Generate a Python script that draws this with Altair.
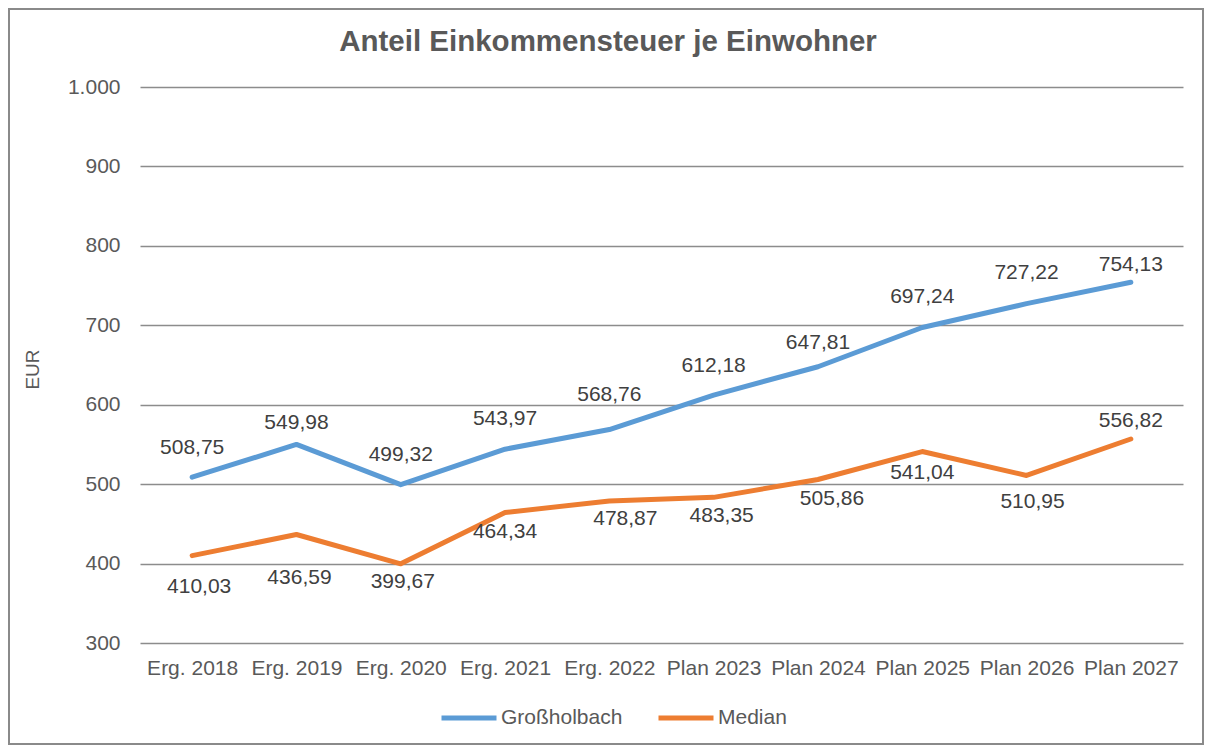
import altair as alt
import pandas as pd

categories = ["Erg. 2018", "Erg. 2019", "Erg. 2020", "Erg. 2021", "Erg. 2022",
              "Plan 2023", "Plan 2024", "Plan 2025", "Plan 2026", "Plan 2027"]
grossholbach = [508.75, 549.98, 499.32, 543.97, 568.76, 612.18, 647.81, 697.24, 727.22, 754.13]
median = [410.03, 436.59, 399.67, 464.34, 478.87, 483.35, 505.86, 541.04, 510.95, 556.82]
series_names = ["Großholbach", "Median"]

# label placement offsets (pixels) as in the reference
g_dy = [-29, -21, -30, -30, -35, -29, -24, -30, -31, -17]
g_dx = [0, 0, 0, 0, 0, 0, 0, 0, 0, 0]
m_dy = [31, 43, 18, 20, 18, 19, 20, 21, 27, -18]
m_dx = [7, 3, 2, 0, 16, 8, 14, 0, 6, 0]

rows = []
for i, c in enumerate(categories):
    rows.append({"cat": c, "series": series_names[0], "value": grossholbach[i],
                 "label": f"{grossholbach[i]:.2f}".replace(".", ","), "dy": g_dy[i], "dx": g_dx[i]})
for i, c in enumerate(categories):
    rows.append({"cat": c, "series": series_names[1], "value": median[i],
                 "label": f"{median[i]:.2f}".replace(".", ","), "dy": m_dy[i], "dx": m_dx[i]})
df = pd.DataFrame(rows)

FONT = "Liberation Sans"
W, H = 1043, 556
PL, PT, PR, PB = 132, 79, 21, 102
YMIN, YMAX = 300, 1000

x = alt.X("cat:N", sort=categories, title=None,
          scale=alt.Scale(type="point", padding=0.5),
          axis=alt.Axis(labelAngle=0, labelFontSize=21, labelColor="#595959", labelFont=FONT,
                        ticks=False, domain=False, grid=False, labelPadding=14))
y_scale = alt.Scale(domain=[YMIN, YMAX], nice=False, zero=False)
y_axis = alt.Axis(values=[300, 400, 500, 600, 700, 800, 900, 1000],
                  labelExpr="replace(format(datum.value, ','), ',', '.')",
                  labelFontSize=21, labelColor="#595959", labelFont=FONT,
                  ticks=False, domain=False, grid=True, gridColor="#8c8c8c",
                  gridWidth=1.5, labelPadding=20,
                  titleFontSize=19, titleFontWeight="normal", titleColor="#595959",
                  titleFont=FONT, titleAngle=270, titleX=-108, titleY=282,
                  titleAlign="center", titleBaseline="middle")
y = alt.Y("value:Q", title="EUR", scale=y_scale, axis=y_axis)
color = alt.Color("series:N", sort=series_names,
                  scale=alt.Scale(domain=series_names, range=["#5B9BD5", "#ED7D31"]),
                  legend=alt.Legend(title=None, orient="none", legendX=299, legendY=601,
                                    direction="horizontal", symbolType="stroke",
                                    symbolSize=3025, symbolStrokeWidth=5,
                                    labelFontSize=21, labelColor="#595959", labelFont=FONT,
                                    labelOffset=2, columnPadding=25, padding=0))

base = alt.Chart(df)
lines = base.mark_line(strokeWidth=5, strokeCap="round", strokeJoin="round").encode(
    x=x, y=y, color=color, detail="series:N")
labels = base.transform_calculate(
    ylab=f"datum.value - datum.dy * {YMAX - YMIN} / {H}"
).mark_text(fontSize=21, font=FONT, color="#404040", baseline="middle", align="center").encode(
    x=x,
    y=alt.Y("ylab:Q", title="EUR", scale=y_scale, axis=y_axis),
    text="label:N",
    xOffset=alt.XOffset("dx:Q", scale=None))

border = alt.Chart(pd.DataFrame({"a": [0]})).mark_rect(
    fill=None, stroke="#8a8a8a", strokeWidth=2).encode(
    x=alt.value(-PL + 1), x2=alt.value(W + PR - 1),
    y=alt.value(-PT + 1), y2=alt.value(H + PB - 1))

title = alt.Chart(pd.DataFrame({"t": ["Anteil Einkommensteuer je Einwohner"]})).mark_text(
    fontSize=29.5, fontWeight="bold", font=FONT, color="#595959",
    align="center", baseline="alphabetic").encode(
    text="t:N", x=alt.value(468), y=alt.value(-36))

chart = alt.layer(border, lines, labels, title).properties(
    width=W, height=H,
    background="white",
    padding={"left": PL, "top": PT, "right": PR, "bottom": PB},
    autosize=alt.AutoSizeParams(type="none"),
).configure_view(stroke=None, strokeOpacity=0)

chart.save("out.html", embed_options={"renderer": "svg", "actions": False})
